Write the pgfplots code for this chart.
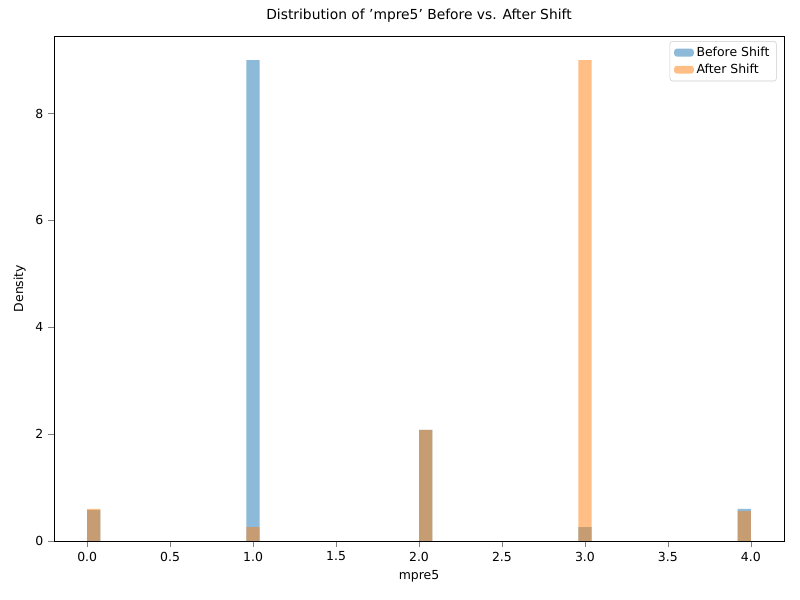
\documentclass[border=0pt]{standalone}
\usepackage{pgfplots}
\pgfplotsset{compat=1.18}
\usepackage{fontspec}
\setmainfont{DejaVu Sans}
\definecolor{c0}{HTML}{1F77B4}
\definecolor{c1}{HTML}{FF7F0E}
\begin{document}
\begin{tikzpicture}
\fill[white] (0,0) rectangle (8in,6in);
\begin{axis}[at={(0.54in,0.59in)},anchor=south west,
  width=7.3in,height=5.05in,scale only axis,
  xmin=-0.2,xmax=4.2,ymin=0,ymax=9.45,
  xtick={0,0.5,...,4},ytick={0,2,4,6,8},
  xticklabel style={/pgf/number format/.cd,fixed,fixed zerofill,precision=1},
  /pgf/number format/assume math mode=true,
  tick label style={font=\small},
  tick align=outside,xtick pos=bottom,ytick pos=left,
  title={Distribution of 'mpre5' Before vs. After Shift},
  xlabel={mpre5},ylabel={Density},label style={font=\small},
  ybar,bar width=0.08,bar shift=0pt,
  legend style={at={(0.99,0.99)},anchor=north east,font=\small,draw=gray!40,rounded corners=2pt},
  legend cell align=left,
  legend image code/.code={\fill[#1] (0cm,-0.1cm) rectangle (0.5cm,0.1cm);}]
\addplot[draw=none,fill=c0,fill opacity=0.5] coordinates {(0.04,0.58) (1.0,9.0) (2.04,2.08) (3.0,0.26) (3.96,0.6)};
\addlegendentry{Before Shift}
\addplot[draw=none,fill=c1,fill opacity=0.5] coordinates {(0.04,0.6) (1.0,0.26) (2.04,2.08) (3.0,9.0) (3.96,0.56)};
\addlegendentry{After Shift}
\end{axis}
\end{tikzpicture}
\end{document}
